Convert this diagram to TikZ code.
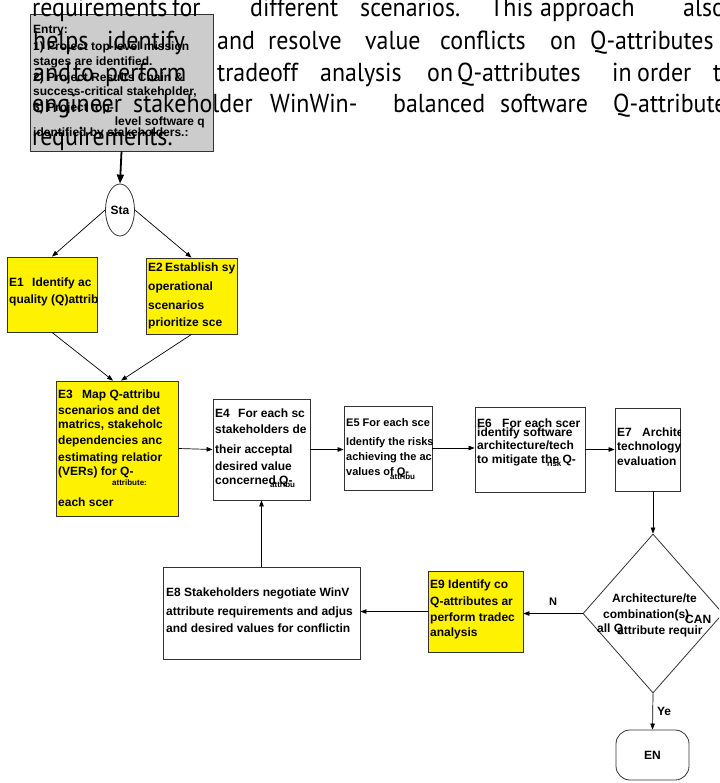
\documentclass[tikz,border=0pt]{standalone}
\usepackage{fontspec}
\setmainfont{Liberation Sans}
\newfontfamily\bgfont[FakeStretch=0.92]{PT Sans}
\usetikzlibrary{arrows.meta, calc, shapes.geometric}
\tikzset{
  x=1pt, y=-1pt,
  >={Triangle[length=6pt,width=4.5pt]}, % small filled heads
  every node/.style={inner sep=0pt},
  stepbox/.style={draw=black!80, line width=0.8pt},
  yellowbox/.style={stepbox, fill=yellow},
  boxtext/.style={anchor=west, font=\fontsize{12}{13}\bfseries},
  tinytext/.style={anchor=west, font=\fontsize{8}{9}\bfseries},
  bigtext/.style={anchor=base west, font=\fontsize{26}{30}\bgfont},
  link/.style={->, line width=0.7pt},
}
\newcommand{\elbl}[2]{\makebox[#1pt][l]{#2}}
\begin{document}
\begin{tikzpicture}
  \clip (0,0) rectangle (719,783);
  \fill[white] (0,0) rectangle (719,783);
  % boxes
  \node[stepbox, fill=gray!40, minimum width=183, minimum height=137] (entry) at (121.5,82.5) {};
  \node[stepbox, ellipse, minimum width=29, minimum height=52] (start) at (120,210) {};
  \node[yellowbox, minimum width=90, minimum height=75] (e1) at (52,294.5) {};
  \node[yellowbox, minimum width=91, minimum height=76] (e2) at (191.5,296) {};
  \node[yellowbox, minimum width=122, minimum height=135] (e3) at (117,448.5) {};
  \node[stepbox, minimum width=97, minimum height=101] (e4) at (261.5,449.5) {};
  \node[stepbox, minimum width=88, minimum height=84] (e5) at (388,448) {};
  \node[stepbox, minimum width=110, minimum height=85] (e6) at (530,449.5) {};
  \node[stepbox, minimum width=65, minimum height=83] (e7) at (647.5,449.5) {};
  \node[stepbox, diamond, minimum width=140, minimum height=159] (dec) at (653,613.5) {};
  \node[stepbox, minimum width=197, minimum height=92] (e8) at (261.5,613) {};
  \node[yellowbox, minimum width=95, minimum height=81] (e9) at (475.5,611.5) {};
  \node[stepbox, rounded corners=14pt, minimum width=73, minimum height=50] (en) at (652.5,755) {};
  % paragraph behind the entry box
  \foreach \px/\wrd in {32/requirements, 172/for, 250/different, 360/scenarios., 490/This, 540/approach, 683/also}
    \node[bigtext] at (\px,17) {\wrd};
  \foreach \px/\wrd in {33/helps, 107/identify, 217/and, 268/resolve, 365/value, 440/conflicts, 550/on, 590/Q-attributes}
    \node[bigtext] at (\px,50) {\wrd};
  \foreach \px/\wrd in {33/and, 73/to, 105/perform, 217/tradeoff, 320/analysis, 427/on, 457/Q-attributes, 612/in, 637/order, 713/to}
    \node[bigtext] at (\px,82) {\wrd};
  \foreach \px/\wrd in {32/engineer, 133/stakeholder, 270/WinWin-, 393/balanced, 500/software, 613/Q-attributes}
    \node[bigtext] at (\px,113) {\wrd};
  \node[bigtext] at (32,146) {requirements.};
  % entry text
  \begin{scope}
    \clip (entry.north west) rectangle (entry.south east);
    \node[boxtext] (en1) at (33,31) {Entry:};
    \node[boxtext] (en2) at (33,47) {1) Project top-level mission};
    \node[boxtext] (en3) at (33,62) {stages are identified.};
    \node[boxtext] (en4) at (33,78) {2) Project Results Chain \&};
    \node[boxtext] (en5) at (33,92) {success-critical stakeholder,};
    \node[boxtext] (en6) at (33,108) {3) Project top-};
    \node[boxtext, anchor=east] (en7) at (205,122) {level software q};
    \node[boxtext] (en8) at (33,133) {identified by stakeholders.:};
  \end{scope}
  \node[font=\fontsize{12}{13}\bfseries] at (start) {Sta};
  % step texts
  \begin{scope}
    \clip (e1.north west) rectangle (e1.south east);
    \node[boxtext] at (9,283) {\elbl{23}{E1}Identify ac};
    \node[boxtext] at (9,300) {quality (Q)attribu};
  \end{scope}
  \begin{scope}
    \clip (e2.north west) rectangle (e2.south east);
    \node[boxtext] at (148,268) {\elbl{17}{E2}Establish sy};
    \node[boxtext] at (148,287) {operational};
    \node[boxtext] at (148,305) {scenarios};
    \node[boxtext] at (148,323) {prioritize sce};
  \end{scope}
  \begin{scope}
    \clip (e3.north west) rectangle (e3.south east);
    \node[boxtext] at (58,395) {\elbl{24}{E3}Map Q-attribu};
    \node[boxtext] at (58,410) {scenarios and det};
    \node[boxtext] at (58,425) {matrics, stakeholc};
    \node[boxtext] at (58,441) {dependencies anc};
    \node[boxtext] at (58,458) {estimating relatior};
    \node[boxtext] at (58,472) {(VERs) for Q-};
    \node[tinytext] at (112,483) {attribute:};
    \node[boxtext] at (58,502) {each scer};
  \end{scope}
  \begin{scope}
    \clip (e4.north west) rectangle (e4.south east);
    \node[boxtext] at (215,413) {\elbl{23}{E4}For each sc};
    \node[boxtext] at (215,429) {stakeholders de};
    \node[boxtext] at (215,450) {their acceptal};
    \node[boxtext] at (215,466) {desired value};
    \node[boxtext] at (215,481) {concerned Q-};
    \node[tinytext] at (270,485) {attribu};
  \end{scope}
  \begin{scope}
    \clip (e5.north west) rectangle (e5.south east);
    \node[boxtext, font=\fontsize{11}{12}\bfseries] at (346,423) {E5 For each sce};
    \node[boxtext, font=\fontsize{11}{12}\bfseries] at (346,443) {Identify the risks};
    \node[boxtext, font=\fontsize{11}{12}\bfseries] at (346,458) {achieving the ac};
    \node[boxtext, font=\fontsize{11}{12}\bfseries] at (346,473) {values of Q-};
    \node[tinytext] at (390,477) {attribu};
  \end{scope}
  \begin{scope}
    \clip (e6.north west) rectangle (e6.south east);
    \node[boxtext] at (477,423) {\elbl{25}{E6}For each scer};
    \node[boxtext] at (477,433) {identify software};
    \node[boxtext] at (477,445) {architecture/tech};
    \node[boxtext] at (477,460) {to mitigate the Q-};
    \node[tinytext] at (547,464) {risk};
  \end{scope}
  \begin{scope}
    \clip (e7.north west) rectangle (e7.south east);
    \node[boxtext] at (617,432) {\elbl{25}{E7}Archite};
    \node[boxtext] at (617,447) {technology};
    \node[boxtext] at (617,461) {evaluation};
  \end{scope}
  \node[boxtext] at (612,598) {Architecture/te};
  \node[boxtext] at (603,615) {combination(s)};
  \node[boxtext] at (685,619) {CAN};
  \node[boxtext] at (597,629) {all Q};
  \node[boxtext] at (617,631) {attribute requir};
  \begin{scope}
    \clip (e8.north west) rectangle (e8.south east);
    \node[boxtext] at (166,593) {E8 Stakeholders negotiate WinV};
    \node[boxtext] at (166,612) {attribute requirements and adjus};
    \node[boxtext] at (166,628) {and desired values for conflictin};
  \end{scope}
  \begin{scope}
    \clip (e9.north west) rectangle (e9.south east);
    \node[boxtext] at (430,585) {E9 Identify co};
    \node[boxtext] at (430,602) {Q-attributes ar};
    \node[boxtext] at (430,618) {perform tradec};
    \node[boxtext] at (430,633) {analysis};
  \end{scope}
  \node[font=\fontsize{12}{13}\bfseries] at (en) {EN};
  % connectors
  \draw[->, line width=1.8pt, >={Triangle[length=9pt,width=7pt]}] (entry.south) -- (start.north);
  \draw[link] (start.west) -- (e1.north);
  \draw[link] (start.east) -- (e2.north);
  \draw[link] (e1.south) -- ($(e3.north)+(-4,0)$);
  \draw[link] (e2.south) -- ($(e3.north)+(4,0)$);
  \draw[link] (e3.east) -- (e4.west);
  \draw[link] (e4.east) -- (e4.east -| e5.west);
  \draw[link] (e5.east) -- (e5.east -| e6.west);
  \draw[link] (e6.east) -- (e6.east -| e7.west);
  \draw[link] (e7.south -| dec.north) -- (dec.north);
  \draw[link] (dec.west) -- (dec.west -| e9.east) node[midway, above=8pt, font=\fontsize{11}{12}\bfseries] {N};
  \draw[link] (e9.west) -- (e9.west -| e8.east);
  \draw[link] (e8.north) -- (e4.south);
  \draw[link] (dec.south) -- (en.north) node[midway, right=4pt, font=\fontsize{12}{13}\bfseries] {Ye};
\end{tikzpicture}
\end{document}
